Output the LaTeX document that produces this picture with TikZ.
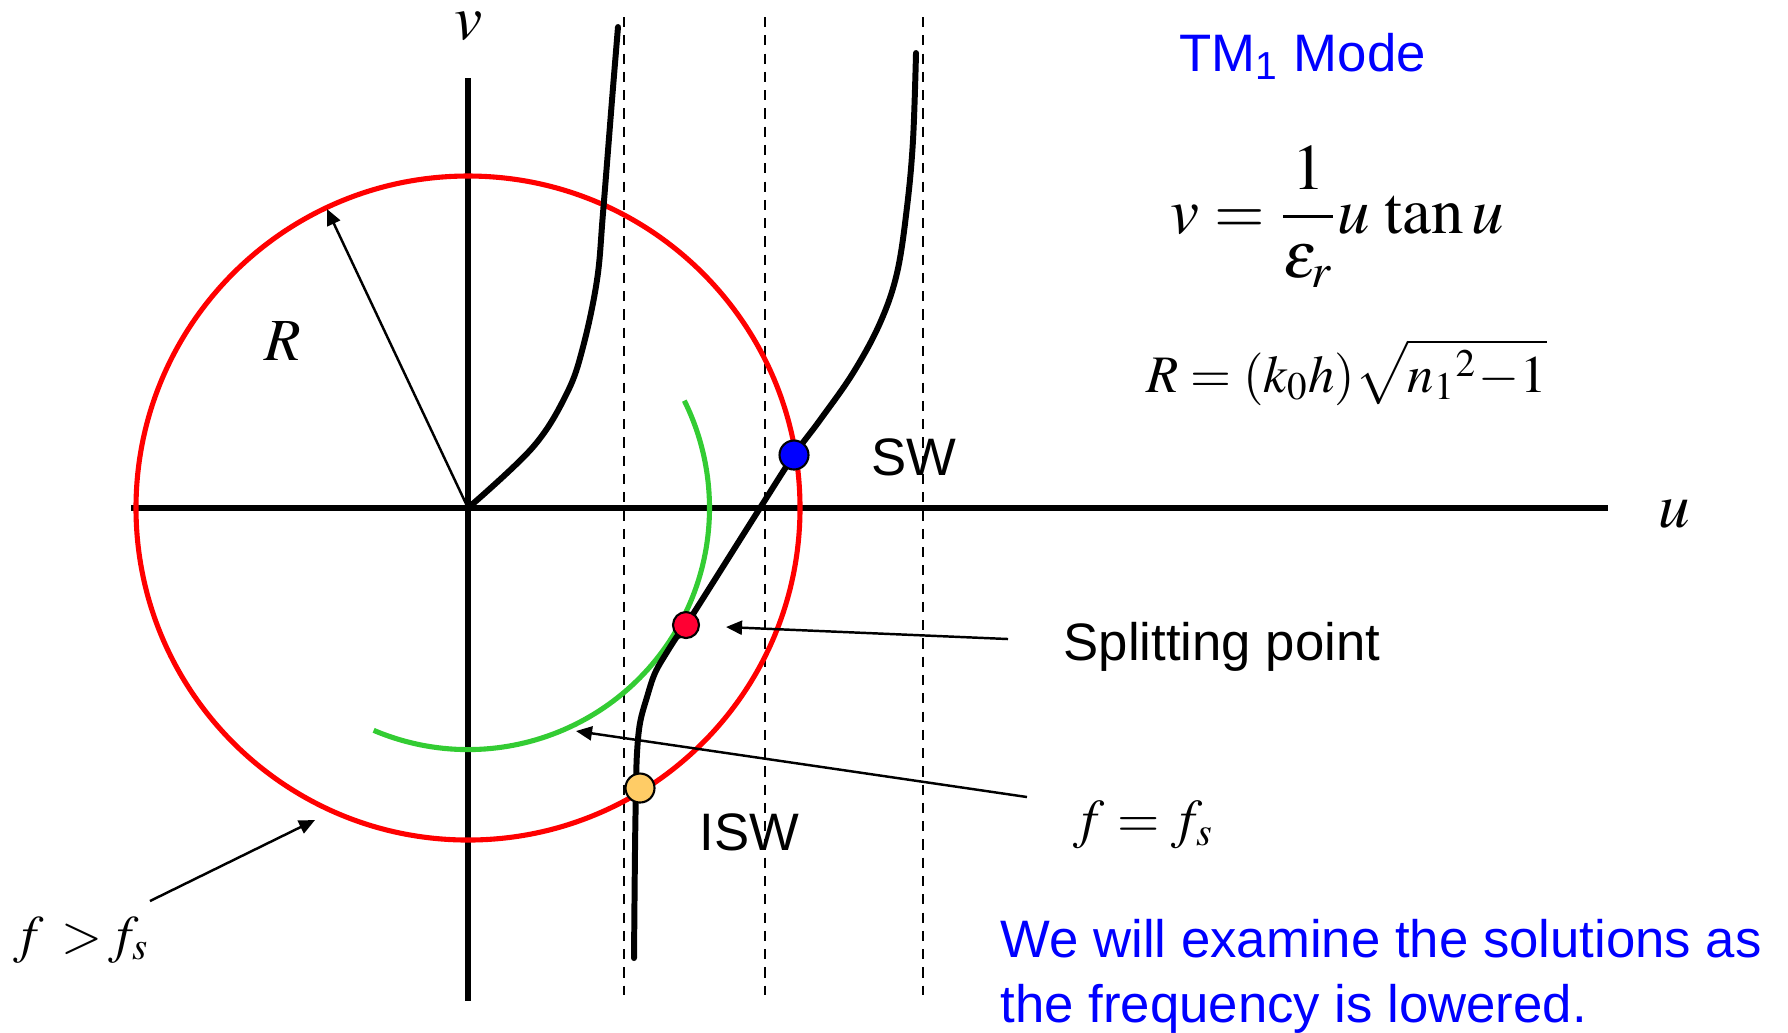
\documentclass[tikz,border=0pt]{standalone}
\usepackage{mathptmx}
\usepackage[no-math]{fontspec}
\setsansfont{Liberation Sans}
\usetikzlibrary{arrows.meta}
\definecolor{tmblue}{RGB}{0,0,255}
\definecolor{circred}{RGB}{255,0,0}
\definecolor{arcgreen}{RGB}{51,204,51}
\definecolor{splitred}{RGB}{255,0,51}
\definecolor{iswyellow}{RGB}{255,204,102}

\begin{document}
\begin{tikzpicture}[
  axis/.style={line width=1.7pt},
  curve/.style={line width=1.7pt,line join=round,line cap=round},
  asym/.style={line width=0.7pt,dash pattern=on 2.9pt off 2.3pt},
  pointer/.style={line width=0.7pt,-{Triangle[length=0.16cm,width=0.14cm]}},
  lbl/.style={inner sep=0pt,anchor=base west,font=\sffamily\fontsize{15}{18.5}\selectfont},
  mlbl/.style={inner sep=0pt,anchor=base west,font=\fontsize{16}{19}\selectfont},
  dot/.style={circle,draw,line width=0.6pt,minimum size=0.29cm,inner sep=0pt}]
  \useasboundingbox (0,0) rectangle (17.88,-10.32);
  \def\R{3.32}
  \def\r{2.415}
  \coordinate (O) at (4.68,-5.08);
  % axes and asymptotes
  \draw[axis] (1.31,-5.08) -- (16.08,-5.08);
  \draw[axis] (4.68,-0.78) -- (4.68,-10.01);
  \foreach \x in {6.24,7.65,9.23}
    \draw[asym] (\x,-0.17) -- (\x,-9.95);
  % circles
  \draw[circred,line width=1.45pt] (O) circle (\R);
  \draw[arcgreen,line width=1.45pt] ([shift={(-113:\r)}]O) arc[start angle=-113,end angle=26.4,radius=\r];
  % tan branches
  \draw[curve] plot[smooth,tension=0.6] coordinates {(4.68,-5.08) (5.33,-4.47) (5.67,-3.93) (5.83,-3.47)
    (5.97,-2.80) (6.03,-2.13) (6.12,-1.00) (6.18,-0.27)};
  \draw[curve] plot[smooth,tension=0.6] coordinates {(6.34,-9.58) (6.35,-8.50) (6.36,-7.88) (6.37,-7.53)
    (6.40,-7.23) (6.47,-6.97) (6.55,-6.73) (6.67,-6.52) (6.78,-6.35) (6.86,-6.25) (7.60,-5.08)
    (7.94,-4.55) (8.20,-4.20) (8.53,-3.73) (8.80,-3.23) (8.97,-2.73) (9.07,-2.07) (9.13,-1.40) (9.16,-0.53)};
  % solutions
  \node[dot,fill=tmblue] (sw) at (7.94,-4.55) {};
  \node[dot,fill=splitred,minimum size=0.26cm] (split) at (6.86,-6.25) {};
  \node[dot,fill=iswyellow] (isw) at (6.40,-7.88) {};
  % labels
  \node[mlbl,font=\fontsize{18}{22}\selectfont,anchor=center] (vlab) at (4.69,-0.26) {$v$};
  \node[mlbl,font=\fontsize{18}{22}\selectfont,anchor=center] (ulab) at (16.74,-5.14) {$u$};
  \node[mlbl,font=\fontsize{17}{20}\selectfont,anchor=center] (Rlab) at (2.83,-3.41) {$R$};
  \node[lbl] (swlab) at (8.71,-4.75) {SW};
  \node[lbl] (iswlab) at (6.99,-8.50) {ISW};
  \node[lbl] (splitlab) at (10.63,-6.60) {Splitting point};
  \node[mlbl,font=\fontsize{15.5}{18}\selectfont] (eqlab) at (10.73,-8.37) {$f=f_s$};
  \node[mlbl,font=\fontsize{15}{18}\selectfont] (gtlab) at (0.13,-9.52) {$f\,>\!f_s$};
  \node[lbl,text=tmblue] (title) at (11.79,-0.71) {TM\textsubscript{1} Mode};
  \node[mlbl,font=\fontsize{18.5}{22}\selectfont] (tmeq) at (11.70,-2.33) {$\displaystyle v=\frac{1}{\varepsilon_r}u\,\tan u$};
  \node[mlbl,font=\fontsize{15}{18}\selectfont] (radeq) at (11.46,-3.92) {$R=(k_0h)\sqrt{n_1{}^2\!-\!1}$};
  \node[lbl,text=tmblue,align=left] (note) at (10.00,-10.22) {We will examine the solutions as\\the frequency is lowered.};
  % pointers
  \coordinate (Rtip) at (3.27,-2.09);
  \coordinate (splittail) at (10.08,-6.39);
  \coordinate (splittip) at (7.26,-6.27);
  \coordinate (eqtail) at (10.27,-7.97);
  \coordinate (eqtip) at (5.76,-7.31);
  \coordinate (gttail) at (1.50,-9.01);
  \coordinate (gttip) at (3.15,-8.20);
  \draw[pointer] (O) -- (Rtip);
  \draw[pointer] (splittail) -- (splittip);
  \draw[pointer] (eqtail) -- (eqtip);
  \draw[pointer] (gttail) -- (gttip);
\end{tikzpicture}
\end{document}
